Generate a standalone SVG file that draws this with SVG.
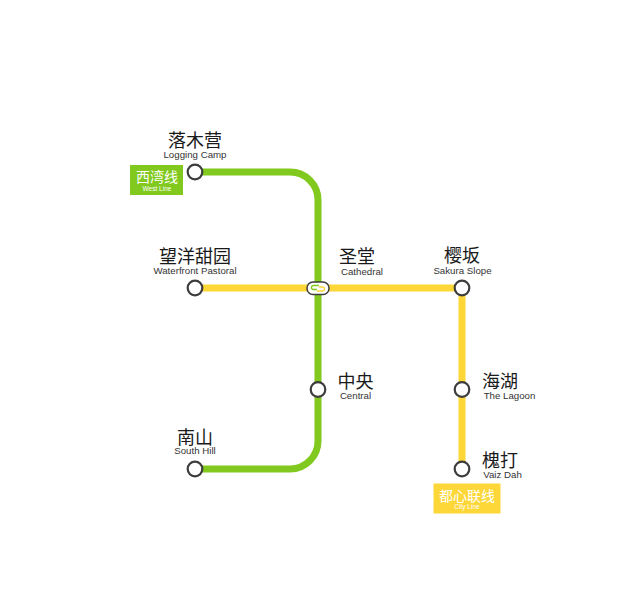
<svg xmlns="http://www.w3.org/2000/svg" width="622" height="600" viewBox="0 0 622 600">
<style>
.line{fill:none;stroke-width:7}
.g{stroke:#81c91e}
.y{stroke:#fdd737}
.st{fill:#fff;stroke:#3d3d3d;stroke-width:2.2}
text{font-family:"Liberation Sans","Noto Sans CJK SC",sans-serif;text-anchor:middle}
.zh{font-size:18px;fill:#1a1a1a}
.en{font-size:9.700px;fill:#333}
.lz{font-size:14px;fill:#fff}
.le{font-size:6.500px;fill:#fff}
</style>
<rect width="622" height="600" fill="#fff"/>
<g id="connectors">
<path class="line y" d="M195 288H462V469"/>
<path class="line g" d="M195 172H290A28 28 0 0 1 318 200V441A28 28 0 0 1 290 469H195"/>
</g>
<g id="west-line-label"><rect x="130" y="165" width="53" height="30" fill="#81c91e"/><text class="lz" x="157" y="182">西湾线</text><text class="le" x="157" y="191">West Line</text></g>
<g id="city-line-label"><rect x="433.500" y="483.500" width="67" height="30" fill="#fdd737"/><text class="lz" x="467" y="500.500">都心联线</text><text class="le" x="467" y="509">City Line</text></g>
<g id="logging-camp"><circle class="st" cx="195" cy="172" r="7.300"/><text class="zh" x="195" y="147">落木营</text><text class="en" x="195" y="157.500">Logging Camp</text></g>
<g id="waterfront-pastoral"><circle class="st" cx="195" cy="288" r="7.300"/><text class="zh" x="195" y="262.500">望洋甜园</text><text class="en" x="195" y="273.500">Waterfront Pastoral</text></g>
<g id="south-hill"><circle class="st" cx="195" cy="469" r="7.300"/><text class="zh" x="195" y="443.500">南山</text><text class="en" x="195" y="454">South Hill</text></g>
<g id="cathedral"><rect x="307" y="282" width="22" height="12.500" rx="6" fill="#fff" stroke="#3d3d3d" stroke-width="1.500"/><path d="M319 285.500H313.500A2 2 0 0 0 313.500 289.500H317" fill="none" stroke="#81c91e" stroke-width="1.300"/><path d="M319 287H322.500A2 2 0 0 1 322.500 291H317" fill="none" stroke="#fdd737" stroke-width="1.300"/><text class="zh" x="357" y="263">圣堂</text><text class="en" x="362" y="274.500">Cathedral</text></g>
<g id="sakura-slope"><circle class="st" cx="462" cy="288" r="7.300"/><text class="zh" x="462" y="262">樱坂</text><text class="en" x="462.500" y="273.500">Sakura Slope</text></g>
<g id="central"><circle class="st" cx="318" cy="389.500" r="7.300"/><text class="zh" x="355.500" y="388">中央</text><text class="en" x="355.500" y="398.500">Central</text></g>
<g id="the-lagoon"><circle class="st" cx="462" cy="389.500" r="7.300"/><text class="zh" x="500" y="388">海湖</text><text class="en" x="509.500" y="398.500">The Lagoon</text></g>
<g id="vaiz-dah"><circle class="st" cx="462" cy="469" r="7.300"/><text class="zh" x="500" y="467">槐打</text><text class="en" x="502.500" y="477.500">Vaiz Dah</text></g>
</svg>
